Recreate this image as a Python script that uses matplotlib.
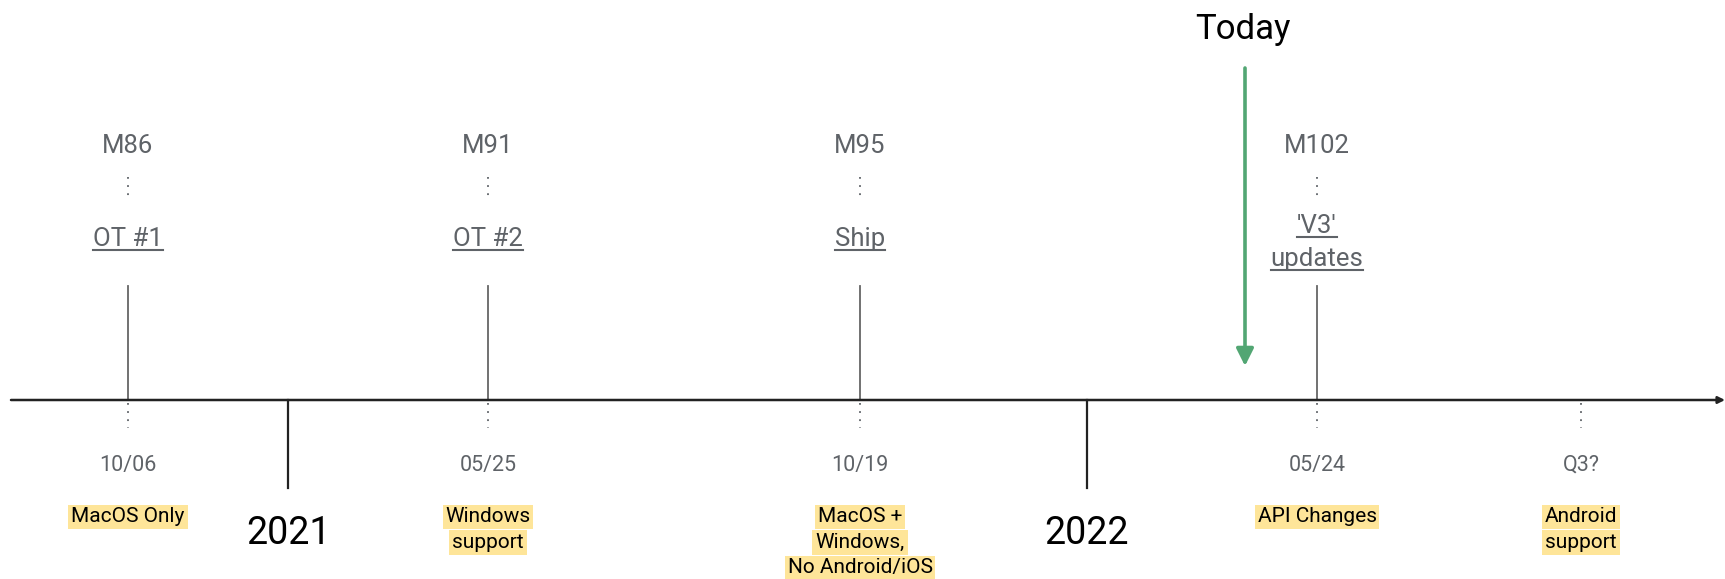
import matplotlib.pyplot as plt

plt.rcParams['font.family'] = ['Roboto', 'DejaVu Sans']

# milestones above the axis
milestones = ['M86', 'M91', 'M95', 'M102']
milestone_titles = ['OT #1', 'OT #2', 'Ship', "'V3'\nupdates"]
milestone_x = [128, 488, 860, 1317]

# dates / platform notes below the axis
dates = ['10/06', '05/25', '10/19', '05/24', 'Q3?']
notes = ['MacOS Only', 'Windows\nsupport', 'MacOS +\nWindows,\nNo Android/iOS',
         'API Changes', 'Android\nsupport']
date_x = [128, 488, 860, 1317, 1581]

years = ['2021', '2022']
year_x = [288, 1087]

today_label = 'Today'
today_x = 1245

W, H = 1725, 579
GREY = '#5f6368'
YELLOW = '#fee599'
GREEN = '#52a673'

fig = plt.figure(figsize=(W / 100, H / 100), dpi=100)
ax = fig.add_axes([0, 0, 1, 1])
ax.set_xlim(0, W)
ax.set_ylim(H, 0)
ax.axis('off')

axis_y = 400

# main time axis
ax.annotate('', xy=(W, axis_y), xytext=(11, axis_y),
            arrowprops=dict(arrowstyle='-|>', color='#222222', lw=1.8,
                            mutation_scale=10, shrinkA=0, shrinkB=0))

# year ticks and labels
for x, yr in zip(year_x, years):
    ax.plot([x, x], [axis_y, 488], color='#222222', lw=1.6)
    ax.text(x, 533, yr, ha='center', va='center', fontsize=27, color='black')

# milestones
underlines = []
for x, m, t in zip(milestone_x, milestones, milestone_titles):
    ax.text(x, 146, m, ha='center', va='center', fontsize=18.5, color=GREY)
    ax.plot([x, x], [177, 197], color=GREY, lw=1.3, linestyle=(0, (1, 3.5)))
    lines = t.split('\n')
    if len(lines) == 1:
        bases = [246]
    else:
        bases = [233, 266]
    for ln, b in zip(lines, bases):
        txt = ax.text(x, b, ln, ha='center', va='baseline', fontsize=18.5, color=GREY)
        underlines.append((txt, b + 4))
    ax.plot([x, x], [286, axis_y], color='#666666', lw=1.3)

# dates and notes
for x, d, n in zip(date_x, dates, notes):
    ax.plot([x, x], [403, 428], color=GREY, lw=1.3, linestyle=(0, (1, 3.5)))
    ax.text(x, 465, d, ha='center', va='center', fontsize=15.5, color=GREY)
    for i, ln in enumerate(n.split('\n')):
        ax.text(x, 517 + i * 25.5, ln, ha='center', va='center', fontsize=15,
                color='black',
                bbox=dict(boxstyle='square,pad=0.14', fc=YELLOW, ec='none'))

# today marker
ax.text(today_x - 2, 29, today_label, ha='center', va='center', fontsize=25, color='black')
ax.annotate('', xy=(today_x, 366), xytext=(today_x, 68),
            arrowprops=dict(arrowstyle='-|>', color=GREEN, lw=2.6,
                            mutation_scale=26, shrinkA=0, shrinkB=0))

# underline the milestone titles
fig.canvas.draw()
inv = ax.transData.inverted()
for txt, y in underlines:
    bb = txt.get_window_extent()
    x0 = inv.transform((bb.x0, 0))[0]
    x1 = inv.transform((bb.x1, 0))[0]
    ax.plot([x0, x1], [y, y], color=GREY, lw=1.5)

fig.savefig('out.png', dpi=100)
